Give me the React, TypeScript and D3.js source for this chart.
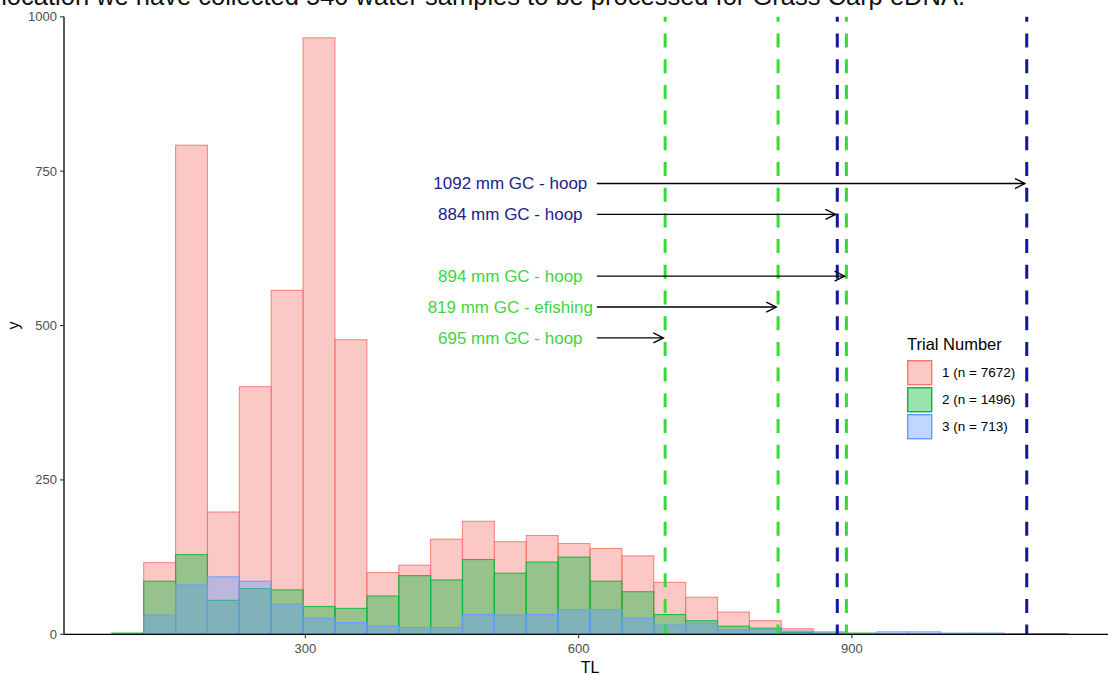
import React, { useEffect, useRef } from "react";
import * as d3 from "d3";

// histogram bins (TL, mm): width 35, first bin starts at 87.5
const binStart = 87.5;
const binWidth = 35;
const trial1 = [0, 116, 792, 198, 401, 557, 966, 477, 100, 112, 154, 183, 150, 160, 147, 139, 127, 84, 60, 36, 22, 9, 1, 0, 0, 0, 0, 0, 0, 0];
const trial2 = [2, 86, 129, 55, 74, 72, 45, 42, 62, 95, 88, 121, 99, 117, 125, 86, 69, 32, 22, 13, 10, 3, 2, 2, 1, 1, 1, 1, 1, 1];
const trial3 = [0, 31, 80, 93, 86, 49, 26, 19, 13, 11, 11, 32, 31, 32, 40, 40, 26, 15, 18, 7, 8, 5, 4, 1, 4, 4, 2, 2, 1, 0];
const trialLabels = ["1 (n = 7672)", "2 (n = 1496)", "3 (n = 713)"];

const xTicks = [300, 600, 900];
const yTicks = [0, 250, 500, 750, 1000];

// catches marked with dashed lines + arrows
const catchLengths = [1092, 884, 894, 819, 695];
const catchLabels = ["1092 mm GC - hoop", "884 mm GC - hoop", "894 mm GC - hoop", "819 mm GC - efishing", "695 mm GC - hoop"];
const catchGroup = ["blue", "blue", "green", "green", "green"];
const arrowY = [730, 680, 580, 530, 480];

const App = () => {
  const svgRef = useRef<SVGSVGElement>(null);

  useEffect(() => {
    const w = 1108;
    const h = 675;
    const font = "'Liberation Sans', Arial, sans-serif";
    const svg = d3.select(svgRef.current)
      .attr("width", w)
      .attr("height", h)
      .style("font-family", font);
    svg.selectAll("*").remove();

    // scales
    const x = d3.scaleLinear().domain([35, 1190]).range([64, 1116]);
    const y = d3.scaleLinear().domain([0, 1000]).range([634.3, 16.8]);

    // clipped caption from page above
    svg.append("text")
      .attr("x", 965)
      .attr("y", 5)
      .attr("text-anchor", "end")
      .attr("font-size", 25.5)
      .attr("fill", "#111")
      .text("location we have collected 540 water samples to be processed for Grass Carp eDNA.");

    // bars
    const fills = ["#F8766D", "#00BA38", "#619CFF"];
    [trial1, trial2, trial3].forEach((counts, k) => {
      svg.append("g")
        .selectAll("rect")
        .data(counts.map((c, i) => ({ c, x0: binStart + i * binWidth })).filter(d => d.c > 0))
        .enter()
        .append("rect")
        .attr("x", d => x(d.x0))
        .attr("width", d => x(d.x0 + binWidth) - x(d.x0))
        .attr("y", d => y(d.c))
        .attr("height", d => y(0) - y(d.c))
        .attr("fill", fills[k])
        .attr("fill-opacity", 0.4)
        .attr("stroke", fills[k])
        .attr("stroke-opacity", 0.85)
        .attr("stroke-width", 1.1);
    });

    // dashed vertical lines
    const lineCol = (g: string) => (g === "blue" ? "#14149c" : "#33dd33");
    const textCol = (g: string) => (g === "blue" ? "#1c1c8c" : "#3fd43f");
    catchLengths.forEach((v, i) => {
      svg.append("line")
        .attr("x1", x(v)).attr("x2", x(v))
        .attr("y1", y(1000)).attr("y2", y(0))
        .attr("stroke", lineCol(catchGroup[i]))
        .attr("stroke-width", 3)
        .attr("stroke-dasharray", "14 11.7")
        .attr("stroke-dashoffset", 9);
    });

    // axes
    svg.append("line")
      .attr("x1", 64).attr("x2", w)
      .attr("y1", y(0)).attr("y2", y(0))
      .attr("stroke", "#000").attr("stroke-width", 1.3);
    svg.append("line")
      .attr("x1", 64).attr("x2", 64)
      .attr("y1", y(1000)).attr("y2", y(0))
      .attr("stroke", "#000").attr("stroke-width", 1.3);

    yTicks.forEach(t => {
      svg.append("line")
        .attr("x1", 60).attr("x2", 64)
        .attr("y1", y(t)).attr("y2", y(t))
        .attr("stroke", "#333").attr("stroke-width", 1.1);
      svg.append("text")
        .attr("x", 57).attr("y", y(t))
        .attr("dy", "0.35em")
        .attr("text-anchor", "end")
        .attr("font-size", 13)
        .attr("fill", "#4d4d4d")
        .text(t);
    });
    xTicks.forEach(t => {
      svg.append("line")
        .attr("x1", x(t)).attr("x2", x(t))
        .attr("y1", y(0)).attr("y2", y(0) + 4)
        .attr("stroke", "#333").attr("stroke-width", 1.1);
      svg.append("text")
        .attr("x", x(t)).attr("y", 653)
        .attr("text-anchor", "middle")
        .attr("font-size", 13)
        .attr("fill", "#4d4d4d")
        .text(t);
    });

    // axis titles
    svg.append("text")
      .attr("x", 590).attr("y", 673)
      .attr("text-anchor", "middle")
      .attr("font-size", 16)
      .text("TL");
    svg.append("text")
      .attr("transform", `translate(19,${(y(0) + y(1000)) / 2}) rotate(-90)`)
      .attr("text-anchor", "middle")
      .attr("font-size", 16)
      .text("y");

    // arrows with labels
    catchLengths.forEach((v, i) => {
      const yy = y(arrowY[i]);
      const x1 = x(620);
      const x2 = x(v - 2);
      svg.append("line")
        .attr("x1", x1).attr("x2", x2)
        .attr("y1", yy).attr("y2", yy)
        .attr("stroke", "#000").attr("stroke-width", 1.4);
      svg.append("path")
        .attr("d", `M${x2 - 10},${yy - 5}L${x2},${yy}L${x2 - 10},${yy + 5}`)
        .attr("fill", "none")
        .attr("stroke", "#000").attr("stroke-width", 1.4);
      svg.append("text")
        .attr("x", x(525)).attr("y", yy)
        .attr("dy", "0.33em")
        .attr("text-anchor", "middle")
        .attr("font-size", 17)
        .attr("fill", textCol(catchGroup[i]))
        .text(catchLabels[i]);
    });

    // legend
    const lg = svg.append("g").attr("transform", "translate(907,0)");
    lg.append("text")
      .attr("x", 0).attr("y", 350)
      .attr("font-size", 16.5)
      .text("Trial Number");
    trialLabels.forEach((lab, k) => {
      const ky = 360 + k * 27;
      lg.append("rect")
        .attr("x", 0.7).attr("y", ky + 0.7)
        .attr("width", 24).attr("height", 24)
        .attr("fill", fills[k]).attr("fill-opacity", 0.4)
        .attr("stroke", fills[k]).attr("stroke-width", 1.4);
      lg.append("text")
        .attr("x", 35).attr("y", ky + 12.5)
        .attr("dy", "0.35em")
        .attr("font-size", 13.5)
        .text(lab);
    });
  }, []);

  return (
    <div style={{ position: "absolute", left: 0, top: 0 }}>
      <svg ref={svgRef}></svg>
    </div>
  );
};

export default App;
